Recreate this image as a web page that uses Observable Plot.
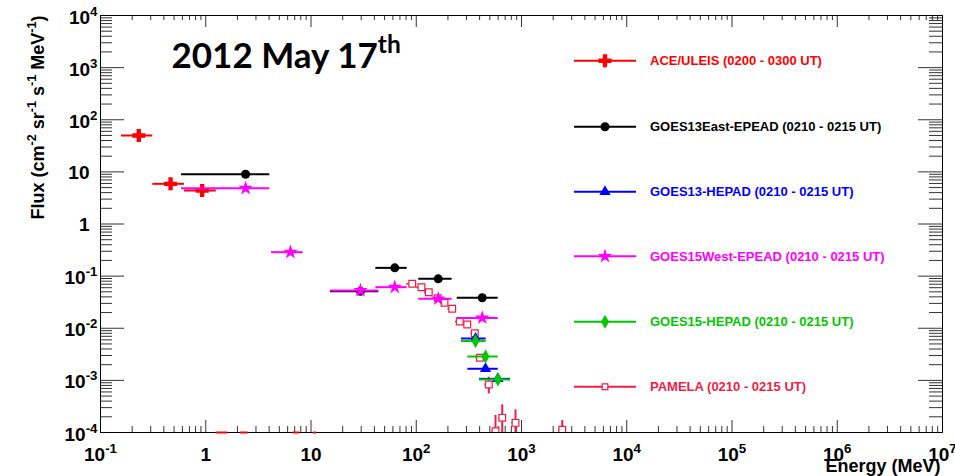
<!DOCTYPE html>
<html><head><meta charset="utf-8">
<script src="https://cdn.jsdelivr.net/npm/d3@7"></script>
<script src="https://cdn.jsdelivr.net/npm/@observablehq/plot@0.6"></script>
<style>
html,body{margin:0;padding:0;background:#fff;}
#chart{width:955px;height:476px;}
</style></head><body><div id="chart"></div>
<script>
// ---------------- DATA ----------------
// ACE/ULEIS (0200 - 0300 UT)
const aceE    = [0.231, 0.463, 0.925];
const aceELo  = [0.158, 0.314, 0.628];
const aceEHi  = [0.314, 0.628, 1.26];
const aceFlux = [49.9, 5.9, 4.4];
// ACE channels whose flux lies below the axis floor (drawn on the floor)
const aceBelowELo = [1.26, 2.14, 6.78, 10.6];
const aceBelowEHi = [1.62, 2.53, 7.83, 11.3];

// GOES13East-EPEAD (0210 - 0215 UT)
const g13eE    = [2.39, 29.5, 62.5, 161.8, 423.6];
const g13eELo  = [0.589, 15.3, 41.3, 105.7, 245];
const g13eEHi  = [4.06, 44, 82, 219, 601];
const g13eFlux = [9.0, 0.051, 0.144, 0.0887, 0.0384];

// GOES13-HEPAD (0210 - 0215 UT)
const g13hE    = [365.6, 455, 596];
const g13hELo  = [269, 309, 399];
const g13hEHi  = [462, 601, 787];
const g13hFlux = [0.00636, 0.00167, 0.00107];

// GOES15West-EPEAD (0210 - 0215 UT)
const g15wE    = [2.39, 6.38, 29.5, 62.5, 161.8, 423.6];
const g15wELo  = [0.589, 4.22, 15.3, 41.3, 105.7, 245];
const g15wEHi  = [4.06, 8.43, 44, 82, 219, 601];
const g15wFlux = [4.86, 0.288, 0.053, 0.0614, 0.0367, 0.0158];

// GOES15-HEPAD (0210 - 0215 UT)
const g15hE    = [365.6, 455, 596];
const g15hELo  = [269, 309, 399];
const g15hEHi  = [462, 601, 787];
const g15hFlux = [0.0057, 0.00287, 0.00104];

// PAMELA (0210 - 0215 UT)
const pamE      = [91.6, 112, 131.5, 160, 185.5, 219.6, 259, 305, 360, 402, 489, 566, 656, 877, 2440];
const pamELo    = [81, 101, 120, 146, 170, 200, 236, 280, 330, 370, 450, 525, 610, 810, 2250];
const pamEHi    = [101, 121, 144, 174, 200, 238, 282, 330, 390, 437, 530, 610, 705, 950, 2650];
const pamFlux   = [0.0713, 0.0614, 0.0492, 0.0378, 0.0308, 0.0236, 0.01346, 0.0118, 0.00804, 0.00271, 0.000834, 1.06e-4, 1.91e-4, 1.53e-4, 1.13e-4];
const pamFluxLo = [0.068, 0.059, 0.047, 0.036, 0.029, 0.022, 0.0126, 0.0110, 0.0074, 0.0024, 0.00055, 0.5e-4, 0.5e-4, 0.5e-4, 0.5e-4];
const pamFluxHi = [0.075, 0.064, 0.051, 0.040, 0.033, 0.025, 0.0144, 0.0126, 0.0090, 0.0031, 0.00115, 2.12e-4, 3.4e-4, 2.72e-4, 1.7e-4];

// axes
const xDomain = [0.1, 1e7];
const yDomain = [1e-4, 1e4];
const xTicks = [0.1, 1, 10, 1e2, 1e3, 1e4, 1e5, 1e6, 1e7];
const xTickLabels = ["10^{-1}", "1", "10", "10^{2}", "10^{3}", "10^{4}", "10^{5}", "10^{6}", "10^{7}"];
const yTicks = [1e-4, 1e-3, 1e-2, 1e-1, 1, 10, 1e2, 1e3, 1e4];
const yTickLabels = ["10^{-4}", "10^{-3}", "10^{-2}", "10^{-1}", "1", "10", "10^{2}", "10^{3}", "10^{4}"];
const titleText = "2012 May 17^{th}";
const xTitle = "Energy (MeV)";
const yTitle = "Flux (cm^{-2} sr^{-1} s^{-1} MeV^{-1})";
const seriesNames = [
  "ACE/ULEIS (0200 - 0300 UT)",
  "GOES13East-EPEAD (0210 - 0215 UT)",
  "GOES13-HEPAD (0210 - 0215 UT)",
  "GOES15West-EPEAD (0210 - 0215 UT)",
  "GOES15-HEPAD (0210 - 0215 UT)",
  "PAMELA (0210 - 0215 UT)"
];

// ---------------- BUILD ----------------
const RED = "#ff0000", BLACK = "#000000", BLUE = "#0000ff", MAGENTA = "#ff00ff", GREEN = "#00c800", PINK = "#f01e46";
const W = 955, H = 476, ML = 100, MR = 13, MT = 15, MB = 44;
const IW = W - ML - MR, IH = H - MT - MB;

const rows = (E, Lo, Hi, F) => E.map((e, i) => ({e, lo: Lo[i], hi: Hi[i], f: F[i]}));
const ace = rows(aceE, aceELo, aceEHi, aceFlux);
const aceBelow = aceBelowELo.map((lo, i) => ({lo, hi: aceBelowEHi[i], f: yDomain[0]}));
const g13e = rows(g13eE, g13eELo, g13eEHi, g13eFlux);
const g13h = rows(g13hE, g13hELo, g13hEHi, g13hFlux);
const g15w = rows(g15wE, g15wELo, g15wEHi, g15wFlux);
const g15h = rows(g15hE, g15hELo, g15hEHi, g15hFlux);
const pam = pamE.map((e, i) => ({e, lo: pamELo[i], hi: pamEHi[i], f: pamFlux[i], flo: pamFluxLo[i], fhi: pamFluxHi[i]}));

function minorTicks([a, b]) {
  const out = [];
  for (let d = a; d < b * 0.999; d *= 10) for (let k = 2; k <= 9; k++) out.push(d * k);
  return out;
}
const xMinor = minorTicks(xDomain), yMinor = minorTicks(yDomain);
const TICK = "#333";

const series = (data, color, symbol, r, extra = {}) => [
  Plot.ruleY(data, {y: "f", x1: "lo", x2: "hi", stroke: color, strokeWidth: 2}),
  Plot.dot(data, {x: "e", y: "f", symbol, r, fill: color, stroke: "none", ...extra})
];

const yLab = yTicks.map((v, i) => ({v, t: yTickLabels[i]}));
const xLab = xTicks.map((v, i) => ({v, t: xTickLabels[i]}));

const svg = Plot.plot({
  width: W, height: H,
  marginLeft: ML, marginRight: MR, marginTop: MT, marginBottom: MB,
  x: {type: "log", domain: xDomain, axis: null},
  y: {type: "log", domain: yDomain, axis: null},
  style: {fontFamily: "'Liberation Sans', Arial, sans-serif", background: "white", overflow: "visible"},
  marks: [
    // ticks: bottom / top / left / right (pointing inward)
    Plot.tickX(xTicks, {x: d => d, insetTop: IH - 12, stroke: TICK}),
    Plot.tickX(xMinor, {x: d => d, insetTop: IH - 6, stroke: TICK}),
    Plot.tickX(xTicks, {x: d => d, insetBottom: IH - 12, stroke: TICK}),
    Plot.tickX(xMinor, {x: d => d, insetBottom: IH - 5, stroke: TICK}),
    Plot.tickY(yTicks, {y: d => d, insetRight: IW - 24, stroke: TICK}),
    Plot.tickY(yMinor, {y: d => d, insetRight: IW - 12, stroke: TICK}),
    Plot.tickY(yTicks, {y: d => d, insetLeft: IW - 24, stroke: TICK}),
    Plot.tickY(yMinor, {y: d => d, insetLeft: IW - 13, stroke: TICK}),
    Plot.frame({stroke: "#000"}),
    // tick labels
    Plot.text(xLab, {x: "v", text: "t", frameAnchor: "bottom", lineAnchor: "bottom", dy: 28, fontSize: 19, fontWeight: "bold", fill: "#000"}),
    Plot.text(yLab.filter(d => d.t.includes("^")), {y: "v", text: "t", frameAnchor: "left", textAnchor: "end", lineAnchor: "bottom", dx: -3, dy: 8, fontSize: 19, fontWeight: "bold", fill: "#000"}),
    Plot.text(yLab.filter(d => !d.t.includes("^")), {y: "v", text: "t", frameAnchor: "left", textAnchor: "end", lineAnchor: "bottom", dx: -11, dy: 7, fontSize: 19, fontWeight: "bold", fill: "#000"}),
    // axis titles
    Plot.text([xTitle], {text: d => d, frameAnchor: "bottom-right", textAnchor: "end", lineAnchor: "bottom", dx: -2, dy: 39, fontSize: 18, fontWeight: "bold", fill: "#000"}),
    Plot.text([yTitle], {text: d => d, frameAnchor: "top-left", textAnchor: "end", lineAnchor: "bottom", rotate: -90, dx: -57, dy: 0, fontSize: 18, fontWeight: "bold", fill: "#000"}),
    // title
    Plot.text([titleText], {text: d => d, frameAnchor: "top-left", textAnchor: "start", lineAnchor: "bottom", dx: 71, dy: 52, fontSize: 35, fontWeight: "bold", fontFamily: "Lato, 'Open Sans', sans-serif", fill: "#000"}),
    // data
    ...series(ace, RED, "cross", 5.5),
    Plot.ruleY(aceBelow, {y: "f", x1: "lo", x2: "hi", stroke: RED, strokeWidth: 2}),
    Plot.ruleY(pam, {y: "f", x1: "lo", x2: "hi", stroke: PINK, strokeWidth: 1.5, clip: true}),
    Plot.ruleX(pam, {x: "e", y1: "flo", y2: "fhi", stroke: PINK, strokeWidth: 2, clip: true}),
    Plot.dot(pam, {x: "e", y: "f", symbol: "square", r: 3.8, fill: "white", stroke: PINK, strokeWidth: 1.2, clip: true}),
    ...series(g13e, BLACK, "circle", 4.5),
    ...series(g13h, BLUE, "triangle", 4.2),
    ...series(g15w, MAGENTA, "star", 4.6),
    ...series(g15h, GREEN, "diamond", 4.2)
  ]
});

// superscripts: "a^{b}" -> tspans
function applySup(root) {
  d3.select(root).selectAll("text").each(function () {
    const t = this.textContent;
    if (!t.includes("^{")) return;
    const parts = t.split(/(\^\{[^}]*\})/).filter(s => s.length);
    this.textContent = "";
    let raised = false;
    for (const p of parts) {
      const ts = document.createElementNS("http://www.w3.org/2000/svg", "tspan");
      if (p.startsWith("^{")) {
        ts.textContent = p.slice(2, -1);
        ts.setAttribute("font-size", "70%");
        ts.setAttribute("dy", "-0.6em");
        raised = true;
      } else {
        ts.textContent = p;
        if (raised) { ts.setAttribute("dy", "0.42em"); raised = false; }
      }
      this.appendChild(ts);
    }
  });
}

// legend (inside the frame, ROOT-style)
const legend = [
  {name: seriesNames[0], color: RED, sym: d3.symbolCross, r: 5.5, fill: RED, stroke: "none"},
  {name: seriesNames[1], color: BLACK, sym: d3.symbolCircle, r: 4.5, fill: BLACK, stroke: "none"},
  {name: seriesNames[2], color: BLUE, sym: d3.symbolTriangle, r: 4.2, fill: BLUE, stroke: "none"},
  {name: seriesNames[3], color: MAGENTA, sym: d3.symbolStar, r: 4.6, fill: MAGENTA, stroke: "none"},
  {name: seriesNames[4], color: GREEN, sym: d3.symbolDiamond, r: 4.2, fill: GREEN, stroke: "none"},
  {name: seriesNames[5], color: PINK, sym: d3.symbolSquare, r: 3.2, fill: "white", stroke: PINK}
];
const rowY = [60.7, 126.7, 191.7, 256.3, 321.7, 386.7];
const lg = d3.select(svg).append("g").attr("aria-label", "legend").attr("text-anchor", "start");
legend.forEach((d, i) => {
  const y = rowY[i];
  lg.append("line").attr("x1", 574).attr("x2", 636).attr("y1", y).attr("y2", y)
    .attr("stroke", d.color).attr("stroke-width", 2);
  lg.append("path").attr("d", d3.symbol(d.sym, Math.PI * d.r * d.r)())
    .attr("transform", `translate(605,${y})`).attr("fill", d.fill).attr("stroke", d.stroke).attr("stroke-width", 1.2);
  lg.append("text").attr("x", 650).attr("y", y + 4.5).text(d.name)
    .attr("text-anchor", "start")
    .attr("fill", d.color).attr("font-size", 13).attr("font-weight", "bold")
    .attr("font-family", "'Liberation Sans', Arial, sans-serif");
});

applySup(svg);
document.getElementById("chart").appendChild(svg);
</script>
</body></html>
